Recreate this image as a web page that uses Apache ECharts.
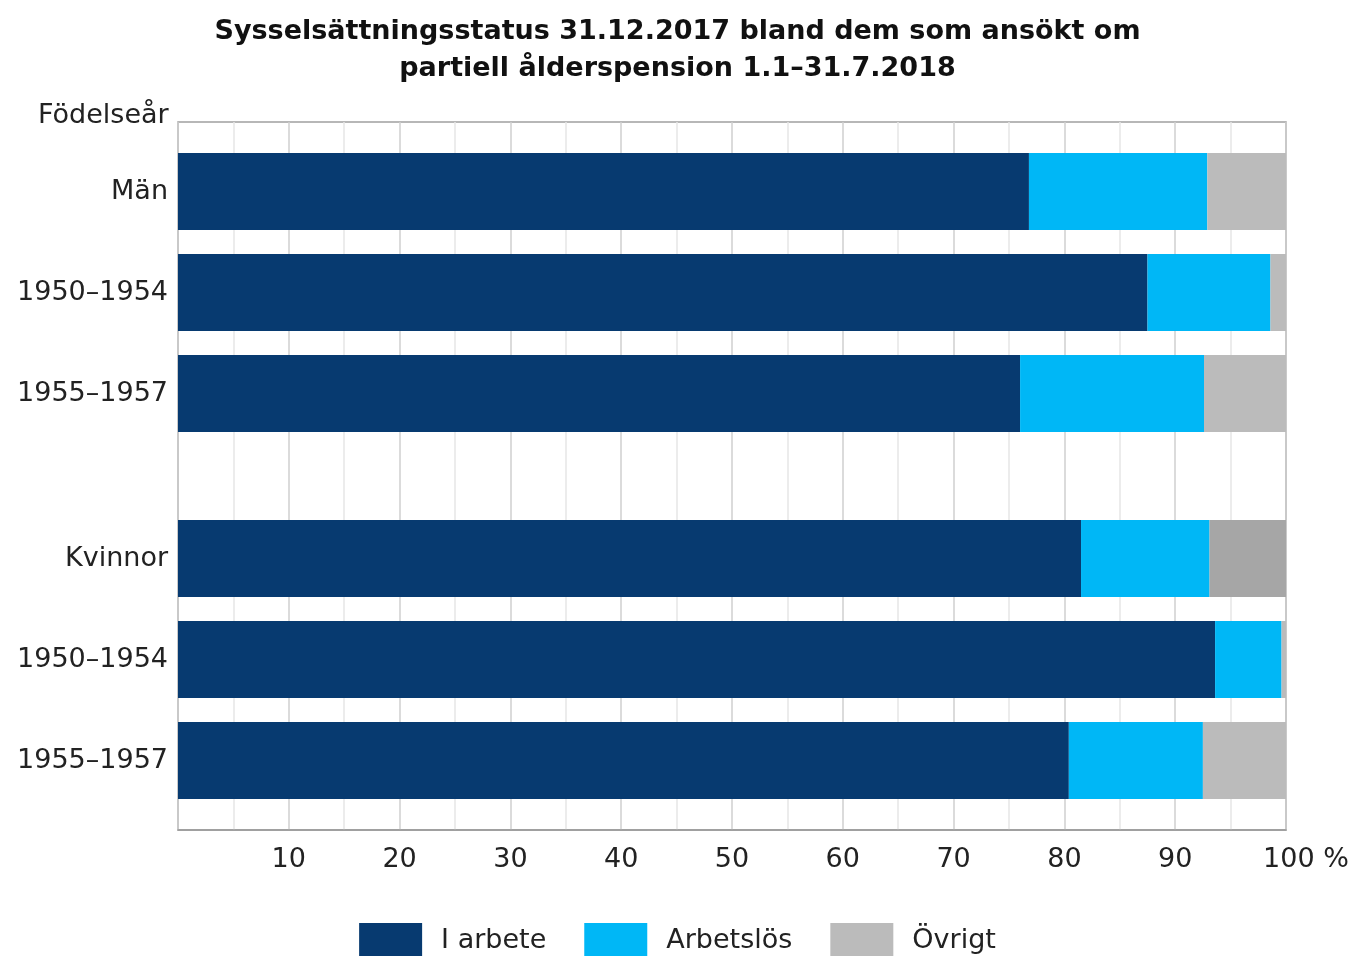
<!DOCTYPE html>
<html><head><meta charset="utf-8">
<script src="https://cdn.jsdelivr.net/npm/echarts@6/dist/echarts.min.js"></script>
<style>html,body{margin:0;padding:0;background:#fff}#c{width:1355px;height:956px}</style>
</head><body><div id="c"></div>
<script>
const titleLines = ['Sysselsättningsstatus 31.12.2017 bland dem som ansökt om', 'partiell ålderspension 1.1–31.7.2018'];
const axisTitle = 'Födelseår';
const groupMen = ['Män', '1950–1954', '1955–1957'];
const groupWomen = ['Kvinnor', '1950–1954', '1955–1957'];
const seriesNames = ['I arbete', 'Arbetslös', 'Övrigt'];
const menWorking = [76.8, 87.5, 76.0];
const menUnemployed = [16.1, 11.1, 16.6];
const menOther = [7.1, 1.4, 7.4];
const womenWorking = [81.5, 93.6, 80.4];
const womenUnemployed = [11.6, 6.0, 12.1];
const womenOther = [6.9, 0.4, 7.5];
const xTicks = [0, 10, 20, 30, 40, 50, 60, 70, 80, 90, 100];

const colors = ['#073a70', '#00b7f6', '#bbbbbb'];
const FONT = 'DejaVu Sans';
const FS = 27;
const chart = echarts.init(document.getElementById('c'));

function otherData(arr, highlightFirst) {
  return arr.map((v, i) => (highlightFirst && i === 0) ? {value: v, itemStyle: {color: '#a6a6a6'}} : v);
}

const barGrids = [
  {left: 178, right: 69, top: 141, height: 303},
  {left: 178, right: 69, top: 508, height: 303}
];

function barSeries(gridIdx, data, name, color) {
  return {
    type: 'bar', name: name, stack: 'g' + gridIdx,
    xAxisIndex: gridIdx, yAxisIndex: gridIdx,
    barWidth: 77, data: data,
    itemStyle: {color: color},
    emphasis: {disabled: true}, animation: false
  };
}

const catLabel = {fontSize: FS, color: '#222', margin: 10, fontFamily: FONT, padding: [11, 0, 0, 0]};

const option = {
  animation: false,
  textStyle: {fontFamily: FONT},
  title: [
    {text: titleLines.join('\n'), left: 'center', top: 8,
     textStyle: {fontFamily: FONT, fontWeight: 'bold', fontSize: FS, lineHeight: 37, color: '#111'}},
    {text: axisTitle, left: 33, top: 97,
     textStyle: {fontFamily: FONT, fontWeight: 'normal', fontSize: FS, color: '#222'}}
  ],
  legend: {
    bottom: -8, left: 'center',
    data: seriesNames,
    icon: 'rect', itemWidth: 63, itemHeight: 36, itemGap: 38,
    textStyle: {fontFamily: FONT, fontSize: FS, color: '#222', padding: [0, 0, 0, 14]},
    selectedMode: false
  },
  grid: [
    {left: 178, right: 69, top: 122, bottom: 126, show: true, borderColor: '#a0a0a0', borderWidth: 1.5},
    barGrids[0], barGrids[1]
  ],
  xAxis: [
    {gridIndex: 0, type: 'value', min: 0, max: 100, interval: 10,
     axisLine: {show: true, lineStyle: {color: '#999', width: 1.5}},
     axisTick: {show: false},
     splitLine: {show: true, lineStyle: {color: '#cfcfcf', width: 1.5}},
     minorTick: {show: false, splitNumber: 2},
     minorSplitLine: {show: true, lineStyle: {color: '#e6e6e6', width: 1.5}},
     axisLabel: {
       margin: 16, fontSize: FS, color: '#222', fontFamily: FONT,
       formatter: v => v === 0 ? '' : (v === 100 ? '{e|' + v + ' %}' : String(v)),
       rich: {e: {fontSize: FS, color: '#222', fontFamily: FONT, padding: [0, 0, 0, 40]}}
     }},
    {gridIndex: 1, type: 'value', min: 0, max: 100, show: false},
    {gridIndex: 2, type: 'value', min: 0, max: 100, show: false}
  ],
  yAxis: [
    {gridIndex: 0, type: 'value', show: false},
    {gridIndex: 1, type: 'category', inverse: true, data: groupMen,
     axisLine: {show: false}, axisTick: {show: false}, axisLabel: catLabel},
    {gridIndex: 2, type: 'category', inverse: true, data: groupWomen,
     axisLine: {show: false}, axisTick: {show: false}, axisLabel: catLabel}
  ],
  series: [
    barSeries(1, menWorking, seriesNames[0], colors[0]),
    barSeries(1, menUnemployed, seriesNames[1], colors[1]),
    barSeries(1, otherData(menOther, false), seriesNames[2], colors[2]),
    barSeries(2, womenWorking, seriesNames[0], colors[0]),
    barSeries(2, womenUnemployed, seriesNames[1], colors[1]),
    barSeries(2, otherData(womenOther, true), seriesNames[2], colors[2])
  ]
};
chart.setOption(option);
</script></body></html>
